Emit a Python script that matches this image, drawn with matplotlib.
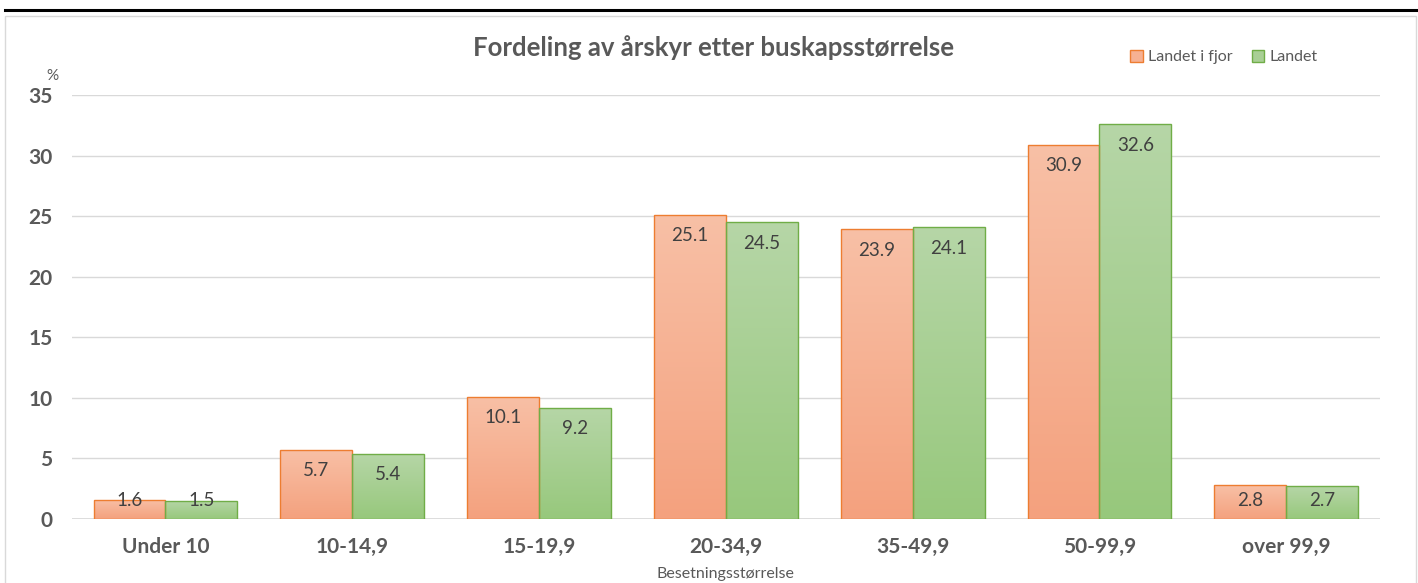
import matplotlib.pyplot as plt
from matplotlib.colors import LinearSegmentedColormap
from matplotlib.lines import Line2D
from matplotlib.patches import Rectangle
import numpy as np

plt.rcParams['font.family'] = ['Lato', 'DejaVu Sans']

categories = ['Under 10', '10-14,9', '15-19,9', '20-34,9', '35-49,9', '50-99,9', 'over 99,9']
landet_i_fjor = [1.6, 5.7, 10.1, 25.1, 23.9, 30.9, 2.8]
landet = [1.5, 5.4, 9.2, 24.5, 24.1, 32.6, 2.7]
series_names = ['Landet i fjor', 'Landet']

fig = plt.figure(figsize=(14.18, 5.83), dpi=100)
ax = fig.add_axes([0.0508, 0.1098, 0.9222, 0.7272])

# frame and top rule like in the source document
fig.add_artist(Line2D([0.0035, 1.0], [1 - 10 / 583, 1 - 10 / 583], color='black', lw=2.2))
fig.add_artist(Rectangle((0.0035, -0.01), 0.995, 1 - 16 / 583 + 0.01, fill=False,
                         edgecolor='#d9d9d9', lw=1.0, transform=fig.transFigure))

grad_orange = LinearSegmentedColormap.from_list('o', ['#f4a17e', '#f8c0a6'])
grad_green = LinearSegmentedColormap.from_list('g', ['#97c87c', '#b6d6a7'])

x = np.arange(len(categories))
w = 0.385
grad = np.linspace(0, 1, 256).reshape(-1, 1)
px_per_unit = 0.7272 * 583 / 35

for vals, off, cmap, edge in [(landet_i_fjor, -w / 2, grad_orange, '#ed7d31'),
                              (landet, w / 2, grad_green, '#70ad47')]:
    bars = ax.bar(x + off, vals, w, color='none', edgecolor=edge, lw=1.0, zorder=3)
    for b, v in zip(bars, vals):
        x0 = b.get_x()
        im = ax.imshow(grad, cmap=cmap, extent=[x0, x0 + w, 0, v], origin='lower',
                       aspect='auto', zorder=2)
        im.set_clip_path(b)
        # inside-end label, pushed up for short bars
        drop_px = min(21, v * px_per_unit - 18)
        ax.annotate(f'{v:.1f}', (x0 + w / 2, v), xytext=(0, -drop_px * 0.72),
                    textcoords='offset points', ha='center', va='center',
                    fontsize=13.5, color='#404040', zorder=4)

ax.set_xlim(-0.5, len(categories) - 0.5)
ax.set_ylim(0, 35)
ax.set_yticks(range(0, 36, 5))
ax.set_xticks(x)
ax.set_xticklabels(categories, fontsize=15, fontweight='bold', color='#595959')
for lbl in ax.get_yticklabels():
    lbl.set_fontsize(15)
    lbl.set_fontweight('bold')
    lbl.set_color('#595959')
ax.tick_params(length=0, pad=13)
ax.tick_params(axis='y', pad=14)
ax.grid(axis='y', color='#d9d9d9', lw=1.0, zorder=0)
for s in ax.spines.values():
    s.set_visible(False)
ax.axhline(0, color='#d9d9d9', lw=1.2, zorder=1)

ax.set_xlabel('Besetningsstørrelse', fontsize=11.5, color='#595959', labelpad=7)
fig.text(0.0367, 1 - 76 / 583, '%', fontsize=11, color='#595959', ha='center', va='center')
fig.text(0.503, 1 - 48 / 583, 'Fordeling av årskyr etter buskapsstørrelse', fontsize=18.5,
         fontweight='bold', color='#595959', ha='center', va='center')

handles = [Rectangle((0, 0), 1, 1, facecolor='#f6b193', edgecolor='#ed7d31'),
           Rectangle((0, 0), 1, 1, facecolor='#a9cf95', edgecolor='#70ad47')]
fig.legend(handles, series_names, loc='center', bbox_to_anchor=(0.863, 1 - 57 / 583), ncol=2,
           frameon=False, fontsize=11.5, labelcolor='#595959', handlelength=0.8,
           handleheight=0.8, handletextpad=0.3, columnspacing=1.2)

fig.savefig('out.png', dpi=100)
